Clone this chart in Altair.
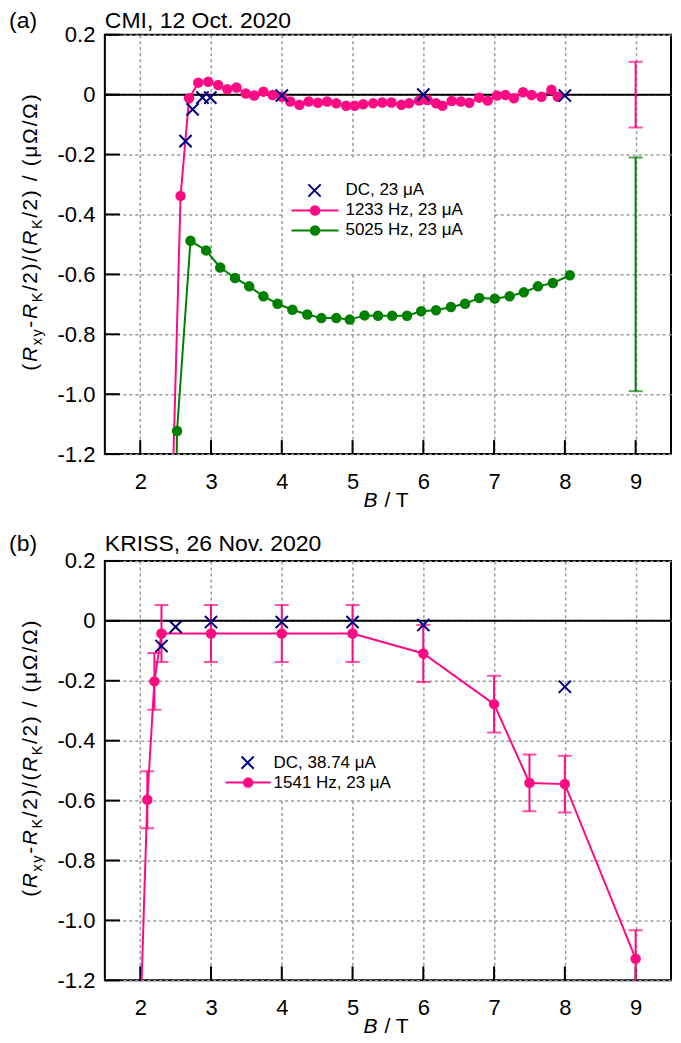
import altair as alt
import pandas as pd

FONT = "Liberation Sans"
PINK = "#FF0A85"
GREEN = "#008000"
NAVY = "#000080"

# ---------------- panel (a): CMI, 12 Oct. 2020 ----------------
a_dc_B = [2.64, 2.74, 2.88, 2.99, 4.0, 6.0, 8.0]
a_dc_v = [-0.155, -0.049, -0.010, -0.010, -0.003, 0.000, -0.003]

a_1233_B = [2.44, 2.57, 2.69, 2.82, 2.96, 3.10, 3.23, 3.36, 3.49, 3.61, 3.74, 3.87,
            4.00, 4.12, 4.25, 4.38, 4.51, 4.64, 4.77, 4.91, 5.03, 5.15, 5.29, 5.42,
            5.55, 5.69, 5.80, 5.94, 6.06, 6.18, 6.27, 6.40, 6.53, 6.65, 6.79, 6.91,
            7.04, 7.16, 7.28, 7.41, 7.53, 7.67, 7.81, 7.90]
a_1233_v = [-1.46, -0.338, -0.012, 0.040, 0.043, 0.032, 0.018, 0.024, 0.004, -0.003, 0.010, -0.001,
            -0.007, -0.023, -0.034, -0.023, -0.027, -0.023, -0.029, -0.037, -0.037, -0.032, -0.029, -0.026,
            -0.026, -0.034, -0.029, -0.020, -0.018, -0.029, -0.037, -0.021, -0.023, -0.027, -0.010, -0.020,
            -0.003, -0.001, -0.012, 0.008, -0.001, -0.007, 0.016, -0.007]

a_5025_B = [2.505, 2.52, 2.71, 2.93, 3.13, 3.34, 3.54, 3.74, 3.94, 4.15, 4.36, 4.56, 4.77,
            4.96, 5.17, 5.36, 5.56, 5.77, 5.97, 6.18, 6.39, 6.59, 6.79, 7.01, 7.22,
            7.42, 7.62, 7.83, 8.07]
a_5025_v = [-1.40, -1.123, -0.488, -0.520, -0.577, -0.612, -0.640, -0.673, -0.698, -0.718, -0.734, -0.746, -0.746,
            -0.751, -0.737, -0.738, -0.738, -0.738, -0.723, -0.720, -0.709, -0.698, -0.679, -0.681, -0.673,
            -0.660, -0.640, -0.629, -0.603]

a_err_B = [9.0, 9.0]
a_err_mid = [0.0, -0.60]
a_err_half = [0.11, 0.39]
a_err_color = [PINK, GREEN]

# ---------------- panel (b): KRISS, 26 Nov. 2020 ----------------
b_dc_B = [2.3, 2.5, 3.0, 4.0, 5.0, 6.0, 8.0]
b_dc_v = [-0.084, -0.020, -0.004, -0.004, -0.004, -0.014, -0.220]

b_1541_B = [2.0, 2.1, 2.2, 2.3, 3.0, 4.0, 5.0, 6.0, 7.0, 7.5, 8.0, 9.0]
b_1541_v = [-1.35, -0.597, -0.202, -0.042, -0.042, -0.042, -0.042, -0.109, -0.278, -0.541, -0.545, -1.128]
b_1541_err = [0.0, 0.095, 0.095, 0.095, 0.095, 0.095, 0.095, 0.095, 0.095, 0.095, 0.095, 0.095]

# ---------------- axes ----------------
X_TICKS = [2, 3, 4, 5, 6, 7, 8, 9]
Y_TICKS = [0.2, 0.0, -0.2, -0.4, -0.6, -0.8, -1.0, -1.2]
X_DOMAIN = [1.5, 9.5]
Y_DOMAIN = [-1.2, 0.2]

W, H = 567, 420

xaxis = alt.Axis(values=X_TICKS, title=None, ticks=False, tickSize=0, domain=False,
                 grid=True, gridDash=[3, 3], gridColor="#9a9a9a", gridWidth=1.5,
                 labelPadding=17, labelFontSize=22, labelFont=FONT, labelColor="black",
                 labelFlush=False)
yaxis = alt.Axis(values=Y_TICKS, title=None, ticks=False, tickSize=0, domain=False,
                 grid=True, gridDash=[3, 3], gridColor="#9a9a9a", gridWidth=1.5,
                 labelPadding=10, labelFontSize=22, labelFont=FONT, labelColor="black",
                 labelFlush=False,
                 labelExpr="abs(datum.value) < 1e-9 ? '0' : (datum.value < 0 ? '-' + format(-datum.value, '.1f') : format(datum.value, '.1f'))")

xs = alt.Scale(domain=X_DOMAIN, nice=False, zero=False)
ys = alt.Scale(domain=Y_DOMAIN, nice=False, zero=False)


def xe(f):
    return alt.X(f, type="quantitative", scale=xs, axis=xaxis)


def ye(f):
    return alt.Y(f, type="quantitative", scale=ys, axis=yaxis)


one = pd.DataFrame({"k": [0]})

# ---------------- y title (with subscripts, drawn char by char) ----------------
CW = {"(": 0.333, ")": 0.333, "R": 0.722, "x": 0.5, "y": 0.5, "-": 0.333, "K": 0.667,
      "/": 0.278, "2": 0.556, " ": 0.278, "μ": 0.576, "Ω": 0.768, "B": 0.667, "T": 0.611}
YT_RUNS = [("(", "normal", False), ("R", "italic", False), ("xy", "normal", True),
           ("-", "normal", False), ("R", "italic", False), ("K", "normal", True),
           ("/2)/(", "normal", False), ("R", "italic", False), ("K", "normal", True),
           ("/2) / (μΩ/Ω)", "normal", False)]
YFS, SUBFS, TRACK, SUBSHIFT, YT_X = 21, 14.5, 1.6, 5, -68


def ytitle_layers(center):
    seq = []
    for txt, style, sub in YT_RUNS:
        for ch in txt:
            seq.append((ch, style, SUBFS if sub else YFS, sub))
    total = sum(CW[c] * s for c, _, s, _ in seq) + TRACK * (len(seq) - 1)
    pos = center + total / 2
    out = []
    for c, style, s, sub in seq:
        if c != " ":
            out.append(alt.Chart(one).mark_text(
                text=c, angle=270, align="left", baseline="alphabetic", font=FONT,
                fontSize=s, fontStyle=style, color="black"
            ).encode(x=alt.value(YT_X + (SUBSHIFT if sub else 0)), y=alt.value(pos)))
        pos -= CW[c] * s + TRACK
    return out


def text_at(txt, x, y, size, style="normal", align="left", baseline="alphabetic"):
    return alt.Chart(one).mark_text(text=txt, align=align, baseline=baseline, font=FONT,
                                    fontSize=size, fontStyle=style, color="black").encode(
        x=alt.value(x), y=alt.value(y))


CROSS = "M-1,-1L1,1M-1,1L1,-1"


def legend_box(x1, x2, y1, y2):
    return [alt.Chart(one).mark_rect(fill="white", stroke=None).encode(
        x=alt.value(x1), x2=alt.value(x2), y=alt.value(y1), y2=alt.value(y2))]


def legend_cross(x, y, tx, label):
    return [
        alt.Chart(one).mark_point(shape=CROSS, filled=False, size=150, strokeWidth=2,
                                  color=NAVY, opacity=1).encode(x=alt.value(x), y=alt.value(y)),
        text_at(label, tx, y, 17, baseline="middle"),
    ]


def legend_line(x1, x2, y, color, tx, label):
    return [
        alt.Chart(one).mark_rule(color=color, strokeWidth=2).encode(
            x=alt.value(x1), x2=alt.value(x2), y=alt.value(y)),
        alt.Chart(one).mark_circle(color=color, size=110, opacity=1).encode(
            x=alt.value((x1 + x2) / 2), y=alt.value(y)),
        text_at(label, tx, y, 17, baseline="middle"),
    ]


def frame_layers():
    zero = alt.Chart(pd.DataFrame({"v": [0.0]})).mark_rule(color="black", strokeWidth=2).encode(
        y=ye("v"), x=alt.value(0), x2=alt.value(W))
    xt = alt.Chart(pd.DataFrame({"B": X_TICKS})).mark_rule(color="black", strokeWidth=2).encode(
        x=xe("B"), y=alt.value(H), y2=alt.value(H - 14))
    yt = alt.Chart(pd.DataFrame({"v": Y_TICKS})).mark_rule(color="black", strokeWidth=2).encode(
        y=ye("v"), x=alt.value(0), x2=alt.value(15))
    return [zero, xt, yt]


def xtitle_layers():
    return [text_at("B", 259, H + 53, 21, style="italic"),
            text_at("/ T", 280, H + 53, 21)]


def series_line(B, v, color):
    df = pd.DataFrame({"B": B, "v": v})
    base = alt.Chart(df)
    return [base.mark_line(color=color, strokeWidth=2, clip=True).encode(x=xe("B"), y=ye("v")),
            base.mark_circle(color=color, size=110, opacity=1, clip=True).encode(x=xe("B"), y=ye("v"))]


def dc_points(B, v):
    df = pd.DataFrame({"B": B, "v": v})
    return [alt.Chart(df).mark_point(shape=CROSS, filled=False, size=150, strokeWidth=2,
                                     color=NAVY, opacity=1, clip=True).encode(x=xe("B"), y=ye("v"))]


def errbars(B, mid, half, color):
    df = pd.DataFrame({"B": B, "mid": mid, "half": half})
    df = df[df["half"] > 0].copy()
    df["lo"] = df["mid"] - df["half"]
    df["hi"] = df["mid"] + df["half"]
    base = alt.Chart(df)
    return [
        base.mark_rule(color=color, strokeWidth=2, clip=True).encode(x=xe("B"), y=ye("lo"), y2="hi"),
        base.mark_tick(color=color, orient="horizontal", size=14, thickness=2, clip=True).encode(
            x=xe("B"), y=ye("lo")),
        base.mark_tick(color=color, orient="horizontal", size=14, thickness=2, clip=True).encode(
            x=xe("B"), y=ye("hi")),
    ]


# ---------------- panel (a) ----------------
a_layers = frame_layers()
a_layers += legend_box(180, 389, 123, 239)
a_layers += series_line(a_1233_B, a_1233_v, PINK)
a_layers += series_line(a_5025_B, a_5025_v, GREEN)
a_layers += errbars([a_err_B[0]], [a_err_mid[0]], [a_err_half[0]], a_err_color[0])
a_layers += errbars([a_err_B[1]], [a_err_mid[1]], [a_err_half[1]], a_err_color[1])
a_layers += dc_points(a_dc_B, a_dc_v)
a_layers += legend_cross(210, 156, 241, "DC, 23 μA")
a_layers += legend_line(187, 234, 176, PINK, 241, "1233 Hz, 23 μA")
a_layers += legend_line(187, 234, 196, GREEN, 241, "5025 Hz, 23 μA")
a_layers += [text_at("(a)", -96, -7, 23), text_at("CMI, 12 Oct. 2020", 0, -7, 23)]
a_layers += xtitle_layers()
a_layers += ytitle_layers(198)
panel_a = alt.layer(*a_layers).properties(width=W, height=H)

# ---------------- panel (b) ----------------
b_layers = frame_layers()
b_layers += legend_box(113, 300, 182, 238)
b_layers += errbars(b_1541_B, b_1541_v, b_1541_err, PINK)
b_layers += series_line(b_1541_B, b_1541_v, PINK)
b_layers += dc_points(b_dc_B, b_dc_v)
b_layers += legend_cross(143, 202, 169, "DC, 38.74 μA")
b_layers += legend_line(121, 166, 222, PINK, 169, "1541 Hz, 23 μA")
b_layers += [text_at("(b)", -96, -10, 23), text_at("KRISS, 26 Nov. 2020", 0, -10, 23)]
b_layers += xtitle_layers()
b_layers += ytitle_layers(198)
panel_b = alt.layer(*b_layers).properties(width=W, height=H)

chart = alt.vconcat(panel_a, panel_b, spacing=107, bounds="flush").properties(
    padding=0, background="white"
).configure_view(stroke="black", strokeWidth=2)

chart.save("out.html", embed_options={"renderer": "svg", "actions": False})
